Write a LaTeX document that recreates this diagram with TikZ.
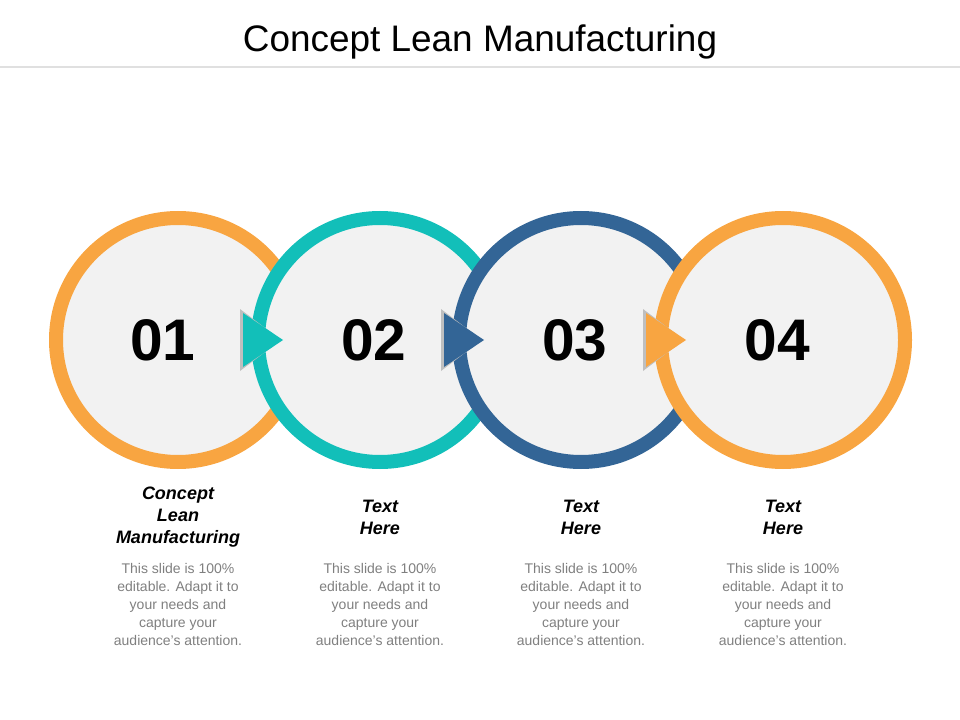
\documentclass[tikz,border=0pt]{standalone}
\usepackage{fontspec}
\setmainfont{Liberation Sans}
\definecolor{ringorange}{HTML}{F8A541}
\definecolor{ringteal}{HTML}{12BFB9}
\definecolor{ringblue}{HTML}{336596}
\definecolor{disc}{HTML}{F2F2F2}
\definecolor{bodygray}{HTML}{7F7F7F}
\tikzset{
  ring/.style={circle, draw=#1, line width=10.5pt, fill=disc, minimum size=183pt, inner sep=0pt},
  num/.style={font=\fontsize{44}{44}\selectfont\bfseries},
  head/.style={font=\fontsize{13.5}{16.5}\selectfont\bfseries\itshape, align=center},
  body/.style={font=\fontsize{10.5}{13.5}\selectfont, text=bodygray, align=center}
}
\begin{document}
\begin{tikzpicture}[x=0.75pt,y=-0.75pt]
    \useasboundingbox (0,0) rectangle (960,720);
    % title
    \node (title) at (480,42) {\fontsize{27.7}{32}\selectfont Concept Lean Manufacturing};
    \draw [draw=black!12, line width=2.2pt] (0,67) -- (960,67);
    % circles and arrows
    \node [ring=ringorange] (c1) at (178,340) {};
    \foreach \i/\x/\col in {2/380/ringteal, 3/581/ringblue, 4/783/ringorange} {
      \node [ring=\col] (c\i) at (\x,340) {};
      \fill [black!25] (\x-140,309) -- (\x-140,371) -- (\x-99,340) -- cycle;
      \fill [\col] (\x-137,313) -- (\x-137,367) -- (\x-97,340) -- cycle;
    }
    \foreach \i/\x in {1/163,2/374,3/575,4/777}
      \node [num] (n\i) at (\x,340) {0\i};
    % labels
    \node [head] (h1) at (178,517) {Concept\\Lean\\Manufacturing};
    \foreach \i/\x in {2/380,3/581,4/783}
      \node [head] (h\i) at (\x,517) {Text\\Here};
    \foreach \i/\x in {1/178,2/380,3/581,4/783}
      \node [body] (b\i) at (\x,604) {This slide is 100\%\\editable. Adapt it to\\your needs and\\capture your\\audience's attention.};
\end{tikzpicture}
\end{document}
